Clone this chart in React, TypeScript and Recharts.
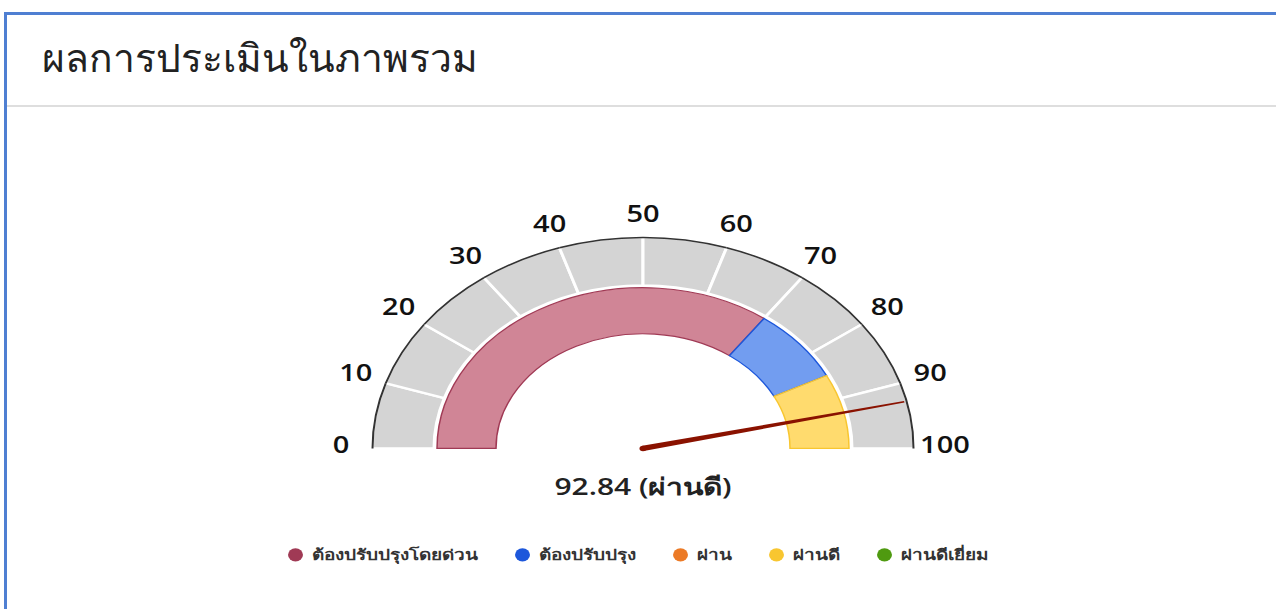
import { PieChart, Pie, Cell, Legend } from 'recharts';

const TITLE = 'ผลการประเมินในภาพรวม';
const SCORE = 92.84;
const SCORE_LABEL = 'ผ่านดี';

const TICKS = [0, 10, 20, 30, 40, 50, 60, 70, 80, 90, 100];
const SCALE_STEPS = [10, 10, 10, 10, 10, 10, 10, 10, 10, 10];

const BAND_NAMES = ['ต้องปรับปรุงโดยด่วน', 'ต้องปรับปรุง', 'ผ่าน', 'ผ่านดี', 'ผ่านดีเยี่ยม'];
const BAND_COLORS = ['#a03a55', '#1d57db', '#ec7a26', '#f8c630', '#4f9a10'];
const BAND_FILLS = ['#c4667c', '#4f84ec', '#f09a5a', '#ffd24a', '#7cb84a'];
const BAND_SPANS = [70, 15, 0, 15, 0];

const NEEDLE = [SCORE, 100 - SCORE];

const SQUASH = 0.78;
const CX = 643;
const CY = 380;
const FONT = '"Open Sans", "Noto Sans", sans-serif';

const scaleData = SCALE_STEPS.map((v, i) => ({ name: `s${i}`, value: v }));
const bandData = BAND_NAMES.map((name, i) => ({ name, value: BAND_SPANS[i], color: BAND_COLORS[i], fill: BAND_FILLS[i] })).filter(
  (d) => d.value > 0,
);
const needleData = NEEDLE.map((v, i) => ({ name: `n${i}`, value: v }));

const RAD = Math.PI / 180;
const polar = (cx: number, cy: number, r: number, angle: number) => ({
  x: cx + r * Math.cos(-angle * RAD),
  y: cy + r * Math.sin(-angle * RAD),
});

function tickLabel(cx: number, cy: number, angle: number, text: number, key: string) {
  const p = polar(cx, cy, 302, angle);
  const lift = 5 * Math.abs(Math.cos(angle * RAD));
  return (
    <text
      key={key}
      x={p.x}
      y={p.y - lift}
      textAnchor="middle"
      dominantBaseline="central"
      fontSize={29}
      fontWeight={600}
      fill="#111"
      fontFamily={FONT}
    >
      {text}
    </text>
  );
}

const renderTicks = (props: any) => {
  const { cx, cy, startAngle, endAngle, index } = props;
  const out = [tickLabel(cx, cy, startAngle, TICKS[index], 'a')];
  if (index === SCALE_STEPS.length - 1) out.push(tickLabel(cx, cy, endAngle, TICKS[index + 1], 'b'));
  return <g>{out}</g>;
};

const renderNeedle = (props: any) => {
  const { cx, cy, endAngle, index } = props;
  if (index !== 0) return null;
  const tip = polar(cx, cy, 268, endAngle);
  const a = -endAngle * RAD;
  const nx = -Math.sin(a);
  const ny = Math.cos(a);
  const pts = [
    [cx + nx * 3.5, cy + ny * 3.5],
    [tip.x + nx * 1, tip.y + ny * 1],
    [tip.x - nx * 1, tip.y - ny * 1],
    [cx - nx * 3.5, cy - ny * 3.5],
  ]
    .map((p) => p.join(','))
    .join(' ');
  return (
    <g>
      <polygon points={pts} fill="#8a1200" />
      <circle cx={cx} cy={cy} r={3.5} fill="#8a1200" />
      <text
        x={cx}
        y={cy + 48}
        textAnchor="middle"
        dominantBaseline="central"
        fontSize={30}
        fontWeight={600}
        fill="#222"
        fontFamily={FONT}
      >
        {`${SCORE} (${SCORE_LABEL})`}
      </text>
    </g>
  );
};

const renderLegend = () => (
  <div style={{ display: 'flex', justifyContent: 'center', gap: 37, fontFamily: FONT, fontSize: 19, fontWeight: 600, color: '#333' }}>
    {BAND_NAMES.map((name, i) => (
      <div key={name} style={{ display: 'flex', alignItems: 'center', gap: 9 }}>
        <span style={{ width: 15, height: 17, borderRadius: '50%', background: BAND_COLORS[i], display: 'inline-block' }} />
        <span>{name}</span>
      </div>
    ))}
  </div>
);

export default function App() {
  return (
    <div style={{ position: 'fixed', left: 0, top: 0, width: 1276, height: 609, background: '#fff', overflow: 'hidden' }}>
      <div style={{ position: 'absolute', left: 4, top: 12, width: 1320, height: 700, border: '3px solid #4f7fd2', boxSizing: 'border-box' }} />
      <div style={{ position: 'absolute', left: 7, top: 105, width: 1276, height: 2, background: '#dedede' }} />
      <div style={{ position: 'absolute', left: 42, top: 27, fontSize: 39, color: '#222', fontFamily: FONT, whiteSpace: 'nowrap' }}>{TITLE}</div>

      <div style={{ position: 'absolute', left: 0, top: 152, transform: `scaleY(${SQUASH})`, transformOrigin: 'top left' }}>
        <PieChart width={1276} height={560} margin={{ top: 0, right: 0, bottom: 0, left: 0 }}>
          <Pie
            data={scaleData}
            dataKey="value"
            cx={CX}
            cy={CY}
            startAngle={180}
            endAngle={0}
            innerRadius={209}
            outerRadius={271}
            fill="#d4d4d4"
            stroke="#fff"
            strokeWidth={3}
            isAnimationActive={false}
          />
          <Pie
            data={scaleData}
            dataKey="value"
            cx={CX}
            cy={CY}
            startAngle={180}
            endAngle={0}
            innerRadius={269.5}
            outerRadius={271.5}
            fill="#333"
            stroke="none"
            label={renderTicks}
            labelLine={false}
            isAnimationActive={false}
          />
          <Pie
            data={bandData}
            dataKey="value"
            cx={CX}
            cy={CY}
            startAngle={180}
            endAngle={0}
            innerRadius={147}
            outerRadius={206}
            strokeWidth={1.5}
            isAnimationActive={false}
          >
            {bandData.map((d) => (
              <Cell key={d.name} fill={d.fill} fillOpacity={0.8} stroke={d.color} />
            ))}
          </Pie>
          <Pie
            data={needleData}
            dataKey="value"
            cx={CX}
            cy={CY}
            startAngle={180}
            endAngle={0}
            innerRadius={0}
            outerRadius={268}
            fill="none"
            stroke="none"
            label={renderNeedle}
            labelLine={false}
            isAnimationActive={false}
          />
          <Legend content={renderLegend} wrapperStyle={{ position: 'absolute', top: 501, left: 0, width: 1276 }} />
        </PieChart>
      </div>
    </div>
  );
}
